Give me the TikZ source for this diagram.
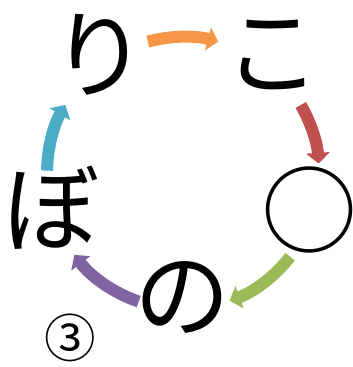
\documentclass[tikz,border=0pt]{standalone}
\usepackage{fontspec}
\newfontfamily\jpfont{Noto Sans CJK JP}
\usetikzlibrary{arrows.meta}
\definecolor{arrorange}{HTML}{F79646}
\definecolor{arrred}{HTML}{C0504D}
\definecolor{arrgreen}{HTML}{9BBB59}
\definecolor{arrpurple}{HTML}{8064A2}
\definecolor{arrblue}{HTML}{4BACC6}
\tikzset{
	kana/.style={font=\jpfont\fontsize{82}{82}\selectfont, inner sep=0pt},
	bigarrow/.style={line width=0.36cm, -{Triangle[length=0.32cm, width=0.7cm]}}
}
\begin{document}
	\begin{tikzpicture}[x=0.03cm, y=0.03cm]
		\useasboundingbox (0,0) rectangle (352,367);
		\coordinate (c) at (183,194);
		
		% Знаки
		\node[kana] (ri) at (100,312) {り};
		\node[kana] (ko) at (273,312) {こ};
		\node[kana] (maru) at (310,157) {○};
		\node[kana] (no) at (183,69) {の};
		\node[kana] (bo) at (52,159) {ぼ};
		\node[font=\jpfont\fontsize{44}{44}\selectfont, inner sep=0pt] (num) at (70,29) {③};
		
		% Стрелки по кругу
		\draw[bigarrow, arrorange] ([shift={(105:136)}]c) arc[start angle=105, end angle=75, radius=136];
		\draw[bigarrow, arrred] ([shift={(30:136)}]c) arc[start angle=30, end angle=4, radius=136];
		\draw[bigarrow, arrgreen] ([shift={(-38:136)}]c) arc[start angle=-38, end angle=-70, radius=136];
		\draw[bigarrow, arrpurple] ([shift={(-109:136)}]c) arc[start angle=-109, end angle=-143, radius=136];
		\draw[bigarrow, arrblue] ([shift={(179:136)}]c) arc[start angle=179, end angle=150, radius=136];
	\end{tikzpicture}
\end{document}
